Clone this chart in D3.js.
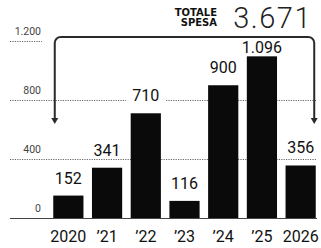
<html>
  <head>
    <meta charset="utf-8">
    <script src="https://cdn.jsdelivr.net/npm/d3@7/dist/d3.min.js" charset="utf-8"></script>
    <style>
      body { margin: 0; background: #fff; }
      svg { display: block; }
    </style>
  </head>
  <body>
    <div id="main"></div>
  <script>
    // data
    var years = ['2020', '\u201921', '\u201922', '\u201923', '\u201924', '\u201925', '2026'];
    var spending = [152, 341, 710, 116, 900, 1096, 356];
    var yTicks = [0, 400, 800, 1200];
    var totalTitle = ['TOTALE', 'SPESA'];

    var svgWidth = 321;
    var svgHeight = 248;

    // italian number format: 1.096
    var it = d3.formatLocale({ decimal: ',', thousands: '.', grouping: [3], currency: ['', '\u20ac'] });
    var fmt = it.format(',');

    var svg = d3.select('#main')
      .append('svg')
      .attr('width', svgWidth)
      .attr('height', svgHeight);

    var x = d3.scaleBand()
      .domain(years)
      .range([49, 320])
      .paddingInner(0.22)
      .paddingOuter(0.11);

    var y = d3.scaleLinear()
      .domain([0, 1200])
      .range([218, 41]);

    var bracketTop = 37;
    var arrowTip = 124;

    // dotted gridlines (top one is just a short stub under its label)
    svg.selectAll('line.grid')
      .data(yTicks.filter(function(d) { return d > 0; }))
      .enter()
      .append('line')
      .attr('class', 'grid')
      .attr('x1', 10)
      .attr('x2', function(d) { return d === 1200 ? 42 : 317; })
      .attr('y1', function(d) { return Math.round(y(d)) + 0.5; })
      .attr('y2', function(d) { return Math.round(y(d)) + 0.5; })
      .attr('stroke', '#666')
      .attr('stroke-width', 1)
      .attr('stroke-dasharray', '1.2,1.2');

    // tick labels
    svg.selectAll('text.tick')
      .data(yTicks)
      .enter()
      .append('text')
      .attr('class', 'tick')
      .attr('x', 41)
      .attr('y', function(d) { return y(d) - 6; })
      .attr('text-anchor', 'end')
      .attr('font-family', 'Roboto, sans-serif')
      .attr('font-size', 10.5)
      .attr('fill', '#444')
      .text(function(d) { return fmt(d); });

    // baseline
    svg.append('line')
      .attr('x1', 10)
      .attr('x2', 317)
      .attr('y1', y(0) + 0.5)
      .attr('y2', y(0) + 0.5)
      .attr('stroke', '#444')
      .attr('stroke-width', 1);

    var data = years.map(function(yr, i) { return { year: yr, value: spending[i] }; });

    svg.selectAll('rect.bar')
      .data(data)
      .enter()
      .append('rect')
      .attr('class', 'bar')
      .attr('x', function(d) { return x(d.year); })
      .attr('width', x.bandwidth())
      .attr('y', function(d) { return y(d.value); })
      .attr('height', function(d) { return y(0) - y(d.value); })
      .attr('fill', '#0a0a0a');

    // value labels, with a white patch so gridlines don't run through them
    var labels = svg.selectAll('g.val')
      .data(data)
      .enter()
      .append('g')
      .attr('class', 'val');

    labels.append('text')
      .attr('x', function(d) { return x(d.year) + x.bandwidth() / 2; })
      .attr('y', function(d) { return Math.max(y(d.value) - 12, 53); })
      .attr('text-anchor', 'middle')
      .attr('font-family', 'Roboto, sans-serif')
      .attr('font-size', 16)
      .attr('fill', '#111')
      .text(function(d) { return fmt(d.value); });

    labels.insert('rect', 'text')
      .each(function() {
        var bb = this.parentNode.querySelector('text').getBBox();
        d3.select(this)
          .attr('x', bb.x - 6)
          .attr('y', bb.y + 2)
          .attr('width', bb.width + 12)
          .attr('height', bb.height - 4)
          .attr('fill', '#fff');
      });

    // x labels
    svg.selectAll('text.year')
      .data(years)
      .enter()
      .append('text')
      .attr('class', 'year')
      .attr('x', function(d) { return x(d) + x.bandwidth() / 2; })
      .attr('y', 242)
      .attr('text-anchor', 'middle')
      .attr('font-family', 'Roboto, sans-serif')
      .attr('font-size', 16)
      .attr('fill', '#111')
      .text(function(d) { return d; });

    // bracket spanning all the bars
    var bl = x(years[0]) + 1.5;
    var br = x(years[years.length - 1]) + x.bandwidth() - 1.5;
    var r = 6;
    var bracket = d3.path();
    bracket.moveTo(bl, arrowTip - 4);
    bracket.lineTo(bl, bracketTop + r);
    bracket.arcTo(bl, bracketTop, bl + r, bracketTop, r);
    bracket.lineTo(br - r, bracketTop);
    bracket.arcTo(br, bracketTop, br, bracketTop + r, r);
    bracket.lineTo(br, arrowTip - 4);

    svg.append('path')
      .attr('d', bracket.toString())
      .attr('fill', 'none')
      .attr('stroke', '#2a2a2a')
      .attr('stroke-width', 2);

    svg.selectAll('path.arrow')
      .data([bl, br])
      .enter()
      .append('path')
      .attr('class', 'arrow')
      .attr('d', function(d) {
        return 'M' + (d - 3.5) + ',' + (arrowTip - 6) + 'L' + (d + 3.5) + ',' + (arrowTip - 6) + 'L' + d + ',' + arrowTip + 'Z';
      })
      .attr('fill', '#2a2a2a');

    // total
    var total = d3.sum(spending);

    svg.append('text')
      .attr('x', 312)
      .attr('y', 28)
      .attr('text-anchor', 'end')
      .attr('font-family', 'Roboto, sans-serif')
      .attr('font-weight', 300)
      .attr('font-size', 29)
      .attr('letter-spacing', 1.5)
      .attr('fill', '#222')
      .text(fmt(total));

    svg.selectAll('text.ttl')
      .data(totalTitle)
      .enter()
      .append('text')
      .attr('class', 'ttl')
      .attr('x', 217)
      .attr('y', function(d, i) { return 16 + i * 10; })
      .attr('text-anchor', 'end')
      .attr('font-family', 'DejaVu Sans, sans-serif')
      .attr('font-weight', 'bold')
      .attr('font-size', 10)
      .attr('fill', '#111')
      .text(function(d) { return d; });
   </script>
  </body>
</html>
